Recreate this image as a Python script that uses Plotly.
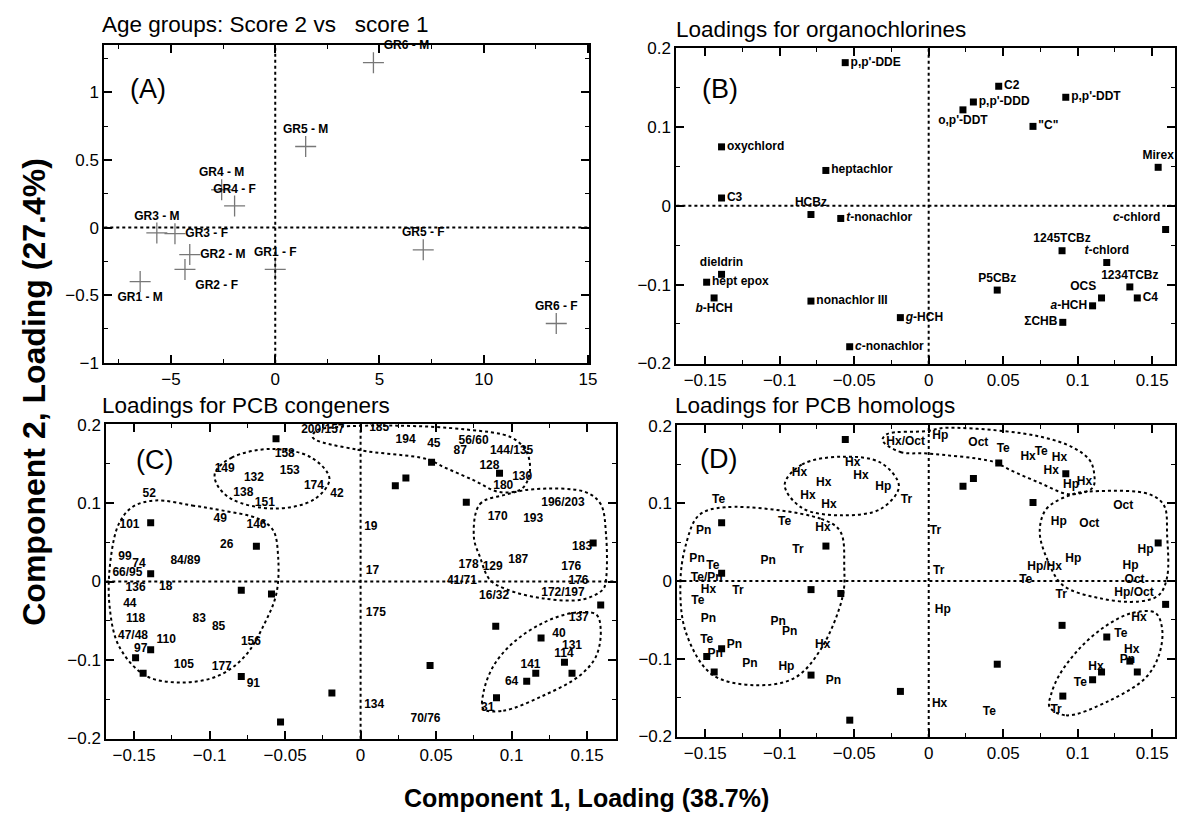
import plotly.graph_objects as go

FONT = "Liberation Sans, Arial, sans-serif"

# ---------------- Panel A: age-group scores ----------------
age_labels = ["GR1 - M", "GR1 - F", "GR2 - M", "GR2 - F", "GR3 - M", "GR3 - F",
              "GR4 - M", "GR4 - F", "GR5 - M", "GR5 - F", "GR6 - M", "GR6 - F"]
age_score1 = [-6.48, 0.0, -4.10, -4.33, -5.68, -4.81, -2.57, -1.95, 1.46, 7.10, 4.71, 13.48]
age_score2 = [-0.40, -0.31, -0.20, -0.31, -0.04, -0.045, 0.28, 0.16, 0.60, -0.165, 1.22, -0.71]

# ---------------- Panel B: organochlorine loadings ----------------
oc_names = ["p,p'-DDE", "oxychlord", "heptachlor", "C3", "HCBz", "<i>t</i>-nonachlor",
            "dieldrin", "hept epox", "<i>b</i>-HCH", "nonachlor III", "<i>g</i>-HCH",
            "<i>c</i>-nonachlor", "C2", "p,p'-DDD", "o,p'-DDT", "p,p'-DDT", "\"C\"",
            "Mirex", "<i>c</i>-chlord", "1245TCBz", "<i>t</i>-chlord", "1234TCBz", "C4",
            "P5CBz", "OCS", "<i>a</i>-HCH", "ΣCHB"]
oc_pc1 = [-0.056, -0.139, -0.069, -0.139, -0.079, -0.059, -0.139, -0.149, -0.144, -0.079,
          -0.019, -0.053, 0.047, 0.030, 0.023, 0.092, 0.070, 0.154, 0.159, 0.0895, 0.1195,
          0.135, 0.140, 0.046, 0.116, 0.110, 0.090]
oc_pc2 = [0.182, 0.075, 0.045, 0.010, -0.011, -0.016, -0.087, -0.097, -0.117, -0.121,
          -0.142, -0.179, 0.152, 0.132, 0.122, 0.138, 0.101, 0.049, -0.030, -0.057, -0.072,
          -0.103, -0.117, -0.107, -0.117, -0.127, -0.148]

# ---------------- Panel C: PCB congener loadings ----------------
pcb_labels = ["158", "149", "132", "153", "174", "42", "138", "151", "52", "101", "49", "146",
              "26", "99", "74", "84/89", "66/95", "136", "18", "44", "118", "83", "85", "47/48",
              "110", "156", "97", "105", "177", "91", "200/157", "185", "194", "45", "56/60",
              "87", "144/135", "128", "130", "180", "196/203", "170", "193", "19", "183", "178",
              "129", "187", "176", "17", "41/71", "176", "16/32", "172/197", "175", "137", "40",
              "131", "114", "141", "64", "134", "31", "70/76"]
pcb_pc1 = [-0.0502, -0.090, -0.0706, -0.0469, -0.0309, -0.0156, -0.0776, -0.0634, -0.140,
           -0.153, -0.093, -0.0689, -0.0886, -0.156, -0.1467, -0.116, -0.1544, -0.149, -0.129,
           -0.1528, -0.149, -0.1068, -0.094, -0.1507, -0.1287, -0.0726, -0.1456, -0.117,
           -0.0919, -0.071, -0.025, 0.0123, 0.0298, 0.0485, 0.0748, 0.066, 0.100, 0.0853,
           0.107, 0.0945, 0.134, 0.0908, 0.1143, 0.0068, 0.1467, 0.0715, 0.0875, 0.1044,
           0.1395, 0.0079, 0.0671, 0.1443, 0.0884, 0.134, 0.0101, 0.1445, 0.1314, 0.140,
           0.1347, 0.1125, 0.100, 0.009, 0.0842, 0.043]
pcb_pc2 = [0.1624, 0.144, 0.132, 0.1405, 0.1215, 0.111, 0.1127, 0.100, 0.111, 0.0717, 0.080,
           0.0717, 0.0464, 0.0316, 0.0224, 0.026, 0.0105, -0.0084, -0.0072, -0.028, -0.0477,
           -0.0477, -0.0578, -0.0696, -0.0747, -0.0768, -0.0865, -0.107, -0.1085, -0.1308,
           0.1937, 0.196, 0.180, 0.175, 0.1794, 0.1658, 0.1667, 0.1477, 0.1338, 0.1215, 0.100,
           0.0823, 0.080, 0.0696, 0.0443, 0.0211, 0.0181, 0.0274, 0.019, 0.0139, 0.0009,
           0.0009, -0.0181, -0.0148, -0.040, -0.0464, -0.0675, -0.0823, -0.0928, -0.1067,
           -0.128, -0.157, -0.161, -0.175]

# ---------------- Panel D: PCB homolog loadings ----------------
hom_labels = ["Hx/Oct", "Hx", "Hx", "Hx", "Hx", "Hp", "Tr", "Hx", "Hx", "Te", "Pn", "Te", "Hx",
              "Tr", "Pn", "Pn", "Te", "Te/Pn", "Hx", "Tr", "Te", "Pn", "Pn", "Pn", "Te", "Pn",
              "Hx", "Pn", "Pn", "Hp", "Pn", "Hp", "Oct", "Te", "Hx", "Te", "Hx", "Hx", "Hp",
              "Hx", "Oct", "Hp", "Oct", "Tr", "Hp", "Hp/Hx", "Hp", "Hp", "Tr", "Te", "Oct",
              "Tr", "Hp/Oct", "Hp", "Hx", "Te", "Hx", "Pn", "Hx", "Te", "Hx", "Te", "Tr"]
hom_pc1 = [-0.0155, -0.051, -0.0867, -0.0705, -0.0455, -0.0305, -0.0149, -0.0811, -0.067,
           -0.141, -0.151, -0.0967, -0.071, -0.0878, -0.1078, -0.1555, -0.1449, -0.149,
           -0.1478, -0.128, -0.155, -0.1478, -0.101, -0.0933, -0.149, -0.1304, -0.0711,
           -0.1433, -0.120, -0.0955, -0.064, 0.0078, 0.0333, 0.050, 0.0667, 0.0755, 0.0878,
           0.0822, 0.0955, 0.1045, 0.1305, 0.0873, 0.1078, 0.0045, 0.1455, 0.0778, 0.097,
           0.1355, 0.0067, 0.0651, 0.1382, 0.0889, 0.1378, 0.0095, 0.1411, 0.1289, 0.1362,
           0.1333, 0.1122, 0.1018, 0.0073, 0.0407, 0.0855]
hom_pc2 = [0.1785, 0.152, 0.139, 0.126, 0.1346, 0.121, 0.1045, 0.1088, 0.098, 0.104, 0.0644,
           0.076, 0.0678, 0.0393, 0.026, 0.0289, 0.0188, 0.0038, -0.0117, -0.013, -0.0263,
           -0.049, -0.0527, -0.066, -0.0753, -0.082, -0.0828, -0.0945, -0.107, -0.110,
           -0.1289, 0.187, 0.177, 0.170, 0.159, 0.166, 0.1577, 0.141, 0.124, 0.128, 0.097,
           0.076, 0.074, 0.0648, 0.0405, 0.0176, 0.028, 0.0197, 0.0125, 0.0009, 0.0009,
           -0.018, -0.016, -0.0368, -0.0473, -0.068, -0.089, -0.1016, -0.110, -0.131,
           -0.158, -0.169, -0.1665]

# ---------------- Cluster outlines (PC1, PC2 vertices) ----------------
c_outlines = [
    [(-0.0963, 0.139), (-0.0853, 0.158), (-0.059, 0.169), (-0.0326, 0.158), (-0.0206, 0.131),
     (-0.0305, 0.105), (-0.0568, 0.093), (-0.0853, 0.105), (-0.0952, 0.124)],
    [(-0.1357, 0.1034), (-0.1116, 0.097), (-0.0919, 0.0907), (-0.0678, 0.080), (-0.0579, 0.0654),
     (-0.0546, 0.0316), (-0.0557, -0.0148), (-0.0634, -0.0528), (-0.0765, -0.095),
     (-0.0941, -0.120), (-0.1182, -0.1287), (-0.1423, -0.120), (-0.160, -0.0823),
     (-0.1664, -0.0275), (-0.1653, 0.0316), (-0.160, 0.0738), (-0.1511, 0.095)],
    [(-0.0316, 0.1835), (-0.002, 0.168), (0.044, 0.156), (0.055, 0.146), (0.075, 0.129),
     (0.092, 0.114), (0.1066, 0.118), (0.112, 0.139), (0.110, 0.165), (0.100, 0.1835),
     (0.0704, 0.1937), (0.0243, 0.1987), (-0.015, 0.197), (-0.0296, 0.192)],
    [(0.075, 0.057), (0.079, 0.0987), (0.0967, 0.111), (0.1145, 0.1177), (0.149, 0.114),
     (0.159, 0.0987), (0.1625, 0.0608), (0.1625, 0.0025), (0.1605, -0.010), (0.147, -0.0228),
     (0.121, -0.0215), (0.0967, -0.010), (0.0855, 0.0025), (0.079, 0.0316)],
    [(0.0814, -0.1624), (0.0945, -0.1646), (0.1208, -0.1456), (0.145, -0.120), (0.156, -0.095),
     (0.159, -0.061), (0.156, -0.042), (0.1406, -0.040), (0.1208, -0.0528), (0.101, -0.078),
     (0.088, -0.1076), (0.0814, -0.141)],
]
d_outlines = [
    [(-0.0967, 0.124), (-0.085, 0.150), (-0.058, 0.160), (-0.032, 0.152), (-0.020, 0.122),
     (-0.032, 0.093), (-0.058, 0.0845), (-0.085, 0.094)],
    [(-0.1367, 0.095), (-0.0722, 0.080), (-0.0593, 0.0636), (-0.0567, 0.0176), (-0.0578, -0.020),
     (-0.0722, -0.087), (-0.090, -0.1246), (-0.1167, -0.134), (-0.1456, -0.120),
     (-0.163, -0.066), (-0.1667, -0.0033), (-0.163, 0.0468), (-0.1544, 0.0844)],
    [(-0.031, 0.181), (-0.019, 0.166), (-0.001, 0.164), (0.0433, 0.1535), (0.0545, 0.143),
     (0.0745, 0.1263), (0.0945, 0.1117), (0.110, 0.120), (0.111, 0.139), (0.108, 0.1556),
     (0.0967, 0.172), (0.0767, 0.185), (0.050, 0.193), (0.010, 0.197), (-0.001, 0.193),
     (-0.028, 0.189)],
    [(0.0745, 0.0636), (0.079, 0.0928), (0.0967, 0.1117), (0.1145, 0.1158), (0.148, 0.1117),
     (0.158, 0.097), (0.160, 0.059), (0.160, 0.005), (0.1545, -0.018), (0.1411, -0.0263),
     (0.1145, -0.022), (0.090, -0.0054), (0.080, 0.026)],
    [(0.0811, -0.162), (0.0922, -0.1728), (0.1211, -0.154), (0.1455, -0.1246), (0.1545, -0.0954),
     (0.1567, -0.0619), (0.1522, -0.041), (0.1367, -0.041), (0.1189, -0.0577), (0.1011, -0.087),
     (0.0878, -0.1205), (0.0822, -0.1455)],
]

# label placement (style)
age_textpos = ["bottom center", "top center", "middle right", "bottom right", "top center",
               "middle right", "top center", "top center", "top center", "top center",
               "top right", "top center"]
oc_textpos = ["middle right", "middle right", "middle right", "middle right", "top center",
              "middle right", "top center", "middle right", "bottom center", "middle right",
              "middle right", "middle right", "middle right", "middle right", "bottom center",
              "middle right", "middle right", "top center", "top left", "top center",
              "top center", "top center", "middle right", "top center", "top left",
              "middle left", "middle left"]

W, H = 1183, 827
fig = go.Figure()

lab_font = dict(family=FONT, size=12, color="black", weight="bold")

# Panel A
fig.add_trace(go.Scatter(x=age_score1, y=age_score2, mode="markers+text", text=age_labels,
                         textposition=age_textpos, textfont=lab_font, cliponaxis=False,
                         marker=dict(symbol="cross-thin", size=15, color="#777",
                                     line=dict(width=1.3, color="#777")),
                         xaxis="x", yaxis="y", showlegend=False, hoverinfo="skip"))
# Panel B
fig.add_trace(go.Scatter(x=oc_pc1, y=oc_pc2, mode="markers+text", text=oc_names,
                         textposition=oc_textpos, textfont=lab_font, cliponaxis=False,
                         marker=dict(symbol="square", size=7, color="black"),
                         xaxis="x2", yaxis="y2", showlegend=False, hoverinfo="skip"))

# Panels C and D: outlines, squares, labels
for outlines, xa, ya in [(c_outlines, "x3", "y3"), (d_outlines, "x4", "y4")]:
    for ol in outlines:
        xs = [p[0] for p in ol] + [ol[0][0]]
        ys = [p[1] for p in ol] + [ol[0][1]]
        fig.add_trace(go.Scatter(x=xs, y=ys, mode="lines",
                                 line=dict(color="black", width=2, dash="dot", shape="spline",
                                           smoothing=1.0),
                                 xaxis=xa, yaxis=ya, showlegend=False, hoverinfo="skip"))
    fig.add_trace(go.Scatter(x=oc_pc1, y=oc_pc2, mode="markers",
                             marker=dict(symbol="square", size=7, color="black"),
                             xaxis=xa, yaxis=ya, showlegend=False, hoverinfo="skip"))

fig.add_trace(go.Scatter(x=pcb_pc1, y=pcb_pc2, mode="text", text=pcb_labels,
                         textfont=lab_font, xaxis="x3", yaxis="y3", showlegend=False,
                         hoverinfo="skip", cliponaxis=False))
fig.add_trace(go.Scatter(x=hom_pc1, y=hom_pc2, mode="text", text=hom_labels,
                         textfont=lab_font, xaxis="x4", yaxis="y4", showlegend=False,
                         hoverinfo="skip", cliponaxis=False))


def px_x(a, b):
    return [a / W, b / W]


def px_y(top, bottom):
    return [1 - bottom / H, 1 - top / H]


def axis(dom, rng, dtick, mdtick, anchor):
    return dict(domain=dom, range=rng, dtick=dtick, tick0=0, anchor=anchor,
                showline=True, linewidth=2, linecolor="black", mirror="allticks",
                ticks="inside", ticklen=8, tickwidth=1.5, tickcolor="black",
                showgrid=False, zeroline=False,
                tickfont=dict(family=FONT, size=17, color="black"),
                minor=dict(ticks="inside", ticklen=4, tickwidth=1.3, tickcolor="black",
                           dtick=mdtick, tick0=0, showgrid=False),
                fixedrange=True)


layout = dict(width=W, height=H, margin=dict(l=0, r=0, t=0, b=0),
              plot_bgcolor="white", paper_bgcolor="white",
              font=dict(family=FONT, color="black"))
layout["xaxis"] = axis(px_x(105, 593), [-8.2, 15.05], 5, 2.5, "y")
layout["yaxis"] = axis(px_y(37, 362), [-1.0, 1.35], 0.5, 0.25, "x")
layout["xaxis2"] = axis(px_x(681, 1183), [-0.1693, 0.1653], 0.05, 0.025, "y2")
layout["yaxis2"] = axis(px_y(40, 363), [-0.2005, 0.2005], 0.1, 0.05, "x2")
layout["xaxis3"] = axis(px_x(107, 620), [-0.1684, 0.169], 0.05, 0.025, "y3")
layout["yaxis3"] = axis(px_y(425, 747), [-0.2005, 0.2005], 0.1, 0.05, "x3")
layout["xaxis4"] = axis(px_x(682, 1183), [-0.1687, 0.1653], 0.05, 0.025, "y4")
layout["yaxis4"] = axis(px_y(426, 745), [-0.2005, 0.2005], 0.1, 0.05, "x4")
fig.update_layout(**layout)

# dotted zero lines
shapes = []
for xa, ya in [("x", "y"), ("x2", "y2"), ("x3", "y3"), ("x4", "y4")]:
    shapes.append(dict(type="line", xref=xa, yref=ya + " domain", x0=0, x1=0, y0=0, y1=1,
                       line=dict(color="black", width=2, dash="dot")))
    shapes.append(dict(type="line", xref=xa + " domain", yref=ya, x0=0, x1=1, y0=0, y1=0,
                       line=dict(color="black", width=2, dash="dot")))
fig.update_layout(shapes=shapes)

ann = []
for txt, xa, ya, fx, fy in [("(A)", "x", "y", 0.09, 0.862), ("(B)", "x2", "y2", 0.088, 0.87),
                            ("(C)", "x3", "y3", 0.094, 0.885), ("(D)", "x4", "y4", 0.082, 0.893)]:
    ann.append(dict(text=txt, xref=xa + " domain", yref=ya + " domain", x=fx, y=fy,
                    showarrow=False, font=dict(family=FONT, size=27, color="black"),
                    xanchor="center", yanchor="middle"))

for txt, x, y in [("Age groups: Score 2 vs   score 1", 101, 16),
                  ("Loadings for organochlorines", 679, 21),
                  ("Loadings for PCB congeners", 101, 406),
                  ("Loadings for PCB homologs", 678, 406)]:
    ann.append(dict(text=txt, xref="paper", yref="paper", x=x / W, y=1 - y / H,
                    showarrow=False, xanchor="left", yanchor="middle",
                    font=dict(family=FONT, size=22.5, color="black")))

ann.append(dict(text="<b>Component 1, Loading (38.7%)</b>", xref="paper", yref="paper",
                x=590 / W, y=1 - 808 / H, showarrow=False, xanchor="center", yanchor="middle",
                font=dict(family=FONT, size=25, color="black")))
ann.append(dict(text="<b>Component 2, Loading (27.4%)</b>", xref="paper", yref="paper",
                x=34 / W, y=1 - 392 / H, showarrow=False, xanchor="center", yanchor="middle",
                textangle=-90, font=dict(family=FONT, size=32, color="black")))
fig.update_layout(annotations=ann)

fig.write_html("out.html", config={"displayModeBar": False},
               post_script="document.documentElement.style.overflow='hidden';"
                           "document.body.style.margin='0';"
                           "document.body.style.overflow='hidden';")
